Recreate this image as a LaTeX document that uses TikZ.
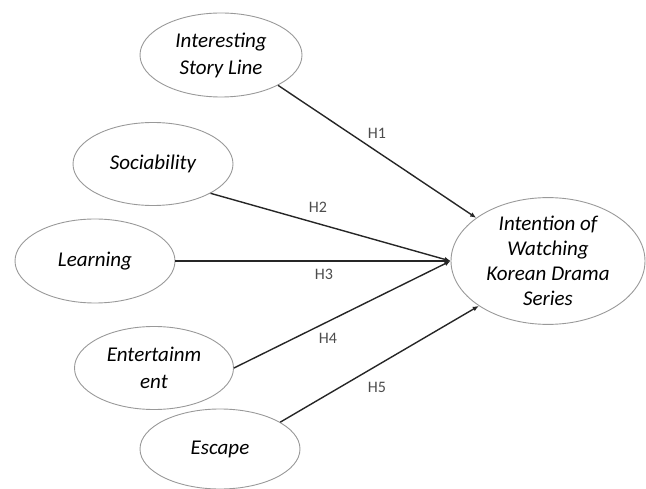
\documentclass[tikz,border=0pt]{standalone}
\usepackage{fontspec}
\setmainfont{Carlito}
\usetikzlibrary{shapes.geometric,arrows.meta}
\tikzset{
  construct/.style={ellipse, draw=black!40, line width=0.9pt, inner sep=0pt, align=center,
    font=\fontsize{21}{27}\selectfont\itshape, text=black},
  path/.style={-{Latex[length=6pt,width=5pt]}, line width=1.4pt, black!85},
  hlabel/.style={font=\fontsize{16}{18}\selectfont, text=black!70}
}
\begin{document}
\begin{tikzpicture}[x=1pt,y=-1pt]
\useasboundingbox (0,0) rectangle (646,489);
\node[construct, minimum width=162pt, minimum height=84pt] (isl) at (221,55) {Interesting\\Story Line};
\node[construct, minimum width=160pt, minimum height=83pt] (soc) at (153,164) {Sociability};
\node[construct, minimum width=160pt, minimum height=84pt] (lea) at (95,261) {Learning};
\node[construct, minimum width=159pt, minimum height=83pt] (ent) at (154,368) {Entertainm\\ent};
\node[construct, minimum width=160pt, minimum height=80pt] (esc) at (220,449) {Escape};
\node[construct, minimum width=194pt, minimum height=116pt, font=\fontsize{21}{25}\selectfont\itshape] (tgt) at (548,261) {Intention of\\Watching\\Korean Drama\\Series};
\draw[path] (isl.-28) -- (tgt.149);
\draw[path] (soc.-27) -- (tgt.west);
\draw[path] (lea.east) -- (tgt.west);
\draw[path] (ent.east) -- (tgt.west);
\draw[path] (esc.24) -- (tgt.213);
\node[hlabel] (h1) at (377,133) {H1};
\node[hlabel] (h2) at (318,207) {H2};
\node[hlabel] (h3) at (324,274) {H3};
\node[hlabel] (h4) at (328,338) {H4};
\node[hlabel] (h5) at (377,387) {H5};
\end{tikzpicture}
\end{document}
